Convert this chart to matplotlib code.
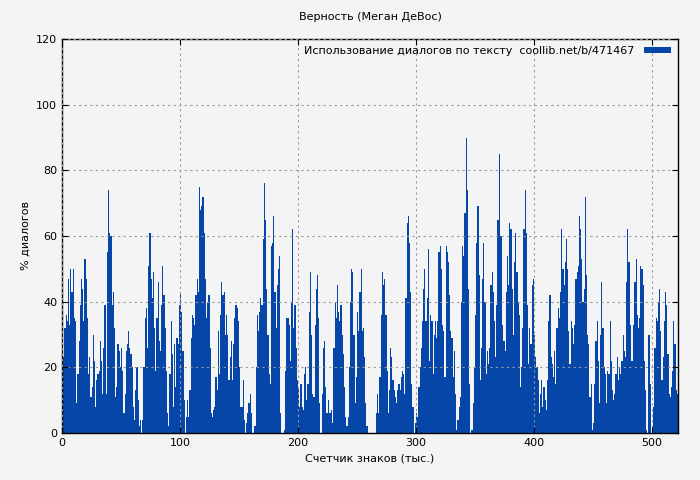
import matplotlib
matplotlib.use("Agg")
import matplotlib.pyplot as plt
import numpy as np

seg_a = [15,23,32,36, 34,47,33,50,43,50,35,34, 9, 18,28,39,47,44,34,53,47,35, 18,23,11,14,
         30,22,8,16,18,19,28, 22,12,26, 39, 12, 55,74, 61,60,39,43, 32, 11,14,27,25, 20,26,19, 6,
         12,25,27,31,26, 24,20,8, 4,13,20, 10,2,4, 0, 4,20, 35,38,26, 51,61,47, 41,49, 32,19,35,
         46,28,25, 39,51,42, 32,19,6, 2,18,34, 24,8,27, 14, 29,27,39, 43,37,25, 10, 0, 5,10,
         5,13,29, 36,35,33, 42,47,43, 75,68,69, 72,61,47, 35,40,42, 26,6,5, 7,8,17, 13, 31]
seg_b = [18,36, 46,42,43, 30,36,30, 16,23,28, 16,27,35, 39,38,34, 20,8,8, 16,4, 0,3,6, 9,12, 6,0,0, 2,
         20,36,31, 37,41,39, 59,76,65, 44,30,18, 15,57,58, 66,43,32, 45,50,54, 6,0,0, 1,19,35,
         35,33,22, 40,62,32, 39,26,16, 14,8,15, 8,7,18, 20,10,15, 37,49,30, 12,11,33, 44,48,35,
         9,0,12, 26,28,14, 6,10,6, 6,7,3, 26,40,35, 45,37,34, 39,30,24, 14,5,2, 5,20,40,
         50,49,30, 9,17,37, 31,43,50, 31,32,23]
seg_c = [9,2,0,0,0,0,0,0,0, 6,12,6, 17,36,49, 45,47,36, 19,6,13, 26,23,16, 13,11,9, 13,15,13,
         17,19,18, 12,41,64, 66,58,43, 15,8,0, 3,6,5, 14,20,26, 34,44,50, 34,41,56, 22,36,34,
         18,30,34, 29,34,55, 57,50,33, 31,17,57, 55,52,42, 31,29,17, 25,12,1, 4,8,11, 40,57,54,
         67,90,74, 44,15,0, 1,9,20, 36,58,69, 48,16, 26,47,58, 40,18,25, 21,26, 45,49, 43,34,
         23,39,65, 85,60,60, 33,28, 25,43, 54,45,64, 62,44, 30,52, 61,49,40, 36,14,20, 32,62,74]
seg_d = [61,39, 21,32,27, 45,47,30, 23,20, 16,6,12, 16,8,14, 10,7, 16,34,42, 23,21, 17,25,15,
         32,38,35, 43,62,50, 45,52,59, 50,31,21, 34,32, 27,33,47, 49,51,66, 62,53,40, 44,72,48,
         30,27, 11,15, 1,3,15, 28,34, 22,9, 30,46,32, 20,18, 9,19,18, 34,22,13, 10,12, 18,23,16,
         20,18,22, 30,25,23, 46,62, 52,33,22,22,33,46,53,36,32,35,51,50,45,22,13,1, 0,30,15, 0,0]
seg_e = [8,26,35,34,40,44,31,16,23,34,43,39,24,12,11,14,19,34,27,13,12]

values = seg_a + seg_b + seg_c + seg_d + seg_e
x = np.arange(len(values))

bg = "#f4f4f4"
blue = "#0646a8"
fig = plt.figure(figsize=(7, 4.8), dpi=100, facecolor=bg)
ax = fig.add_axes([62/700, 1-433/480, (678-62)/700, (433-39)/480])
ax.set_facecolor(bg)
ax.bar(x, values, width=1.0, align="edge", color=blue, linewidth=0,
       label="Использование диалогов по тексту  coollib.net/b/471467")
ax.set_xlim(0, 522)
ax.set_ylim(0, 120)
ax.set_xticks([0, 100, 200, 300, 400, 500])
ax.set_yticks(range(0, 121, 20))
ax.grid(True, color="#999999", linestyle=(0, (2, 3)), linewidth=0.8)
ax.set_axisbelow(False)
ax.tick_params(direction="in", labelsize=8, length=4, top=True, right=True)
for s in ax.spines.values():
    s.set_linewidth(1.0)
ax.set_xlabel("Счетчик знаков (тыс.)", fontsize=8)
ax.set_ylabel("% диалогов", fontsize=8)
ax.set_title("Верность (Меган ДеВос)", fontsize=8, pad=14)
leg = ax.legend(loc="upper right", fontsize=8, frameon=False, handlelength=2.5,
                handleheight=0.5, markerfirst=False, borderaxespad=0.2)
fig.savefig("out.png", dpi=100, facecolor=bg)
